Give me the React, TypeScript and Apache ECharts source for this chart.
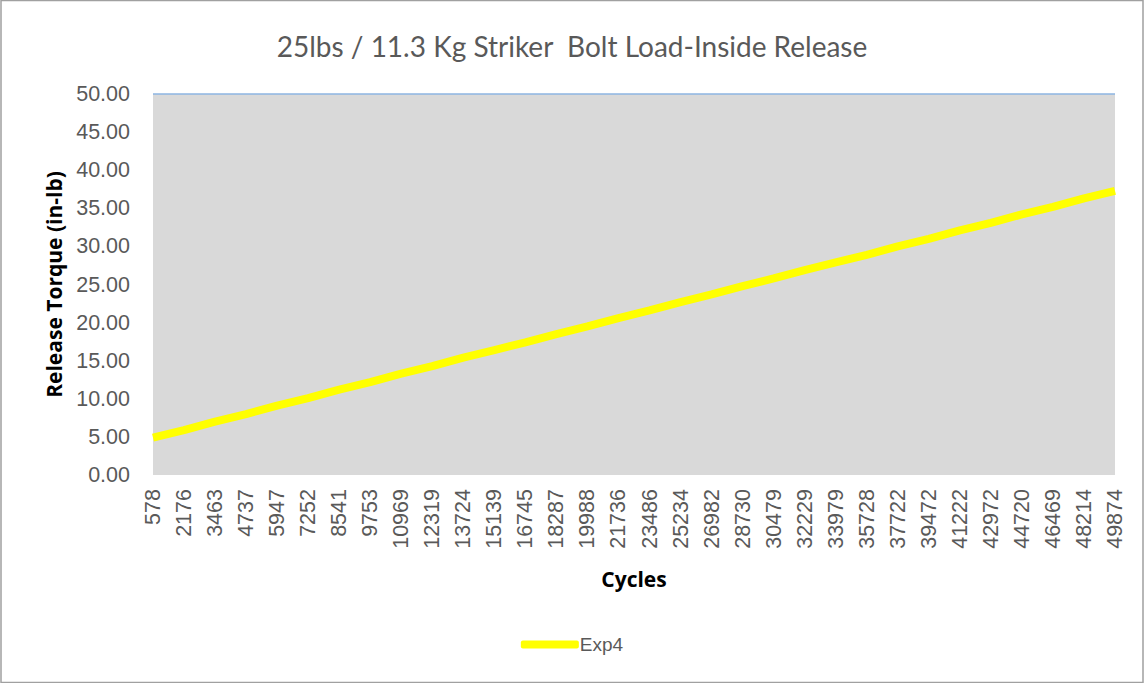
import React, { useEffect, useRef } from "react";
import * as echarts from "echarts";

const cycles = [
  "578", "2176", "3463", "4737", "5947", "7252", "8541", "9753", "10969", "12319",
  "13724", "15139", "16745", "18287", "19988", "21736", "23486", "25234", "26982", "28730",
  "30479", "32229", "33979", "35728", "37722", "39472", "41222", "42972", "44720", "46469",
  "48214", "49874",
];

const exp4 = [
  4.9, 5.9, 7.0, 8.0, 9.1, 10.1, 11.2, 12.2, 13.3, 14.3,
  15.4, 16.4, 17.4, 18.5, 19.5, 20.6, 21.6, 22.7, 23.7, 24.8,
  25.8, 26.9, 27.9, 28.9, 30.0, 31.0, 32.1, 33.1, 34.2, 35.2,
  36.3, 37.3,
];

const yTicks = { min: 0, max: 50, interval: 5 };
const limitValue = 50;

export default function App() {
  const ref = useRef<HTMLDivElement>(null);
  useEffect(() => {
    document.body.style.margin = "0";
    const chart = echarts.init(ref.current!, undefined, { renderer: "svg" });
    chart.setOption({
      animation: false,
      backgroundColor: "#ffffff",
      title: {
        text: "25lbs / 11.3 Kg Striker  Bolt Load-Inside Release",
        left: "center",
        top: 27,
        textStyle: { fontFamily: "Lato", fontSize: 28, fontWeight: "normal", color: "#595959" },
      },
      grid: {
        left: 153, right: 29, top: 94, bottom: 208,
        show: true, backgroundColor: "#D9D9D9", borderWidth: 0,
      },
      legend: {
        bottom: 24,
        left: "center",
        data: [{ name: "Exp4", icon: "roundRect" }],
        itemWidth: 58,
        itemHeight: 8,
        itemGap: 4,
        itemStyle: { color: "#FFFF00" },
        textStyle: { fontFamily: "Liberation Sans", fontSize: 19, color: "#595959", padding: [0, 0, 0, -4] },
      },
      xAxis: {
        type: "category",
        data: cycles,
        boundaryGap: false,
        name: "Cycles",
        nameLocation: "middle",
        nameGap: 93,
        nameTextStyle: { fontFamily: "Open Sans", fontWeight: "bold", fontSize: 21, color: "#000" },
        axisLine: { show: false },
        axisTick: { show: false },
        axisLabel: {
          rotate: 90, interval: 0, margin: 14,
          fontFamily: "Liberation Sans", fontSize: 21.5, color: "#595959",
        },
        splitLine: { show: false },
      },
      yAxis: {
        type: "value",
        min: yTicks.min, max: yTicks.max, interval: yTicks.interval,
        name: "Release Torque (in-lb)",
        nameLocation: "middle",
        nameGap: 89,
        nameTextStyle: { fontFamily: "Open Sans", fontWeight: "bold", fontSize: 21, color: "#000" },
        axisLine: { show: false },
        axisTick: { show: false },
        splitLine: { show: false },
        axisLabel: {
          margin: 23,
          fontFamily: "Liberation Sans", fontSize: 21.5, color: "#595959",
          formatter: (v: number) => v.toFixed(2),
        },
      },
      series: [
        {
          name: "Exp4",
          type: "line",
          data: exp4,
          symbol: "none",
          lineStyle: { color: "#FFFF00", width: 8, cap: "butt" },
          itemStyle: { color: "#FFFF00" },
          markLine: {
            silent: true,
            symbol: "none",
            label: { show: false },
            lineStyle: { color: "#8DB4E2", width: 1.5, type: "solid" },
            data: [{ yAxis: limitValue }],
          },
        },
      ],
      graphic: [
        {
          type: "rect",
          shape: { x: 1, y: 0.5, width: 1142, height: 682 },
          style: { fill: "none", stroke: "#A0A0A0", lineWidth: 1.5 },
          silent: true,
        },
      ],
    });
    return () => chart.dispose();
  }, []);
  return <div ref={ref} style={{ width: 1144, height: 683 }} />;
}
